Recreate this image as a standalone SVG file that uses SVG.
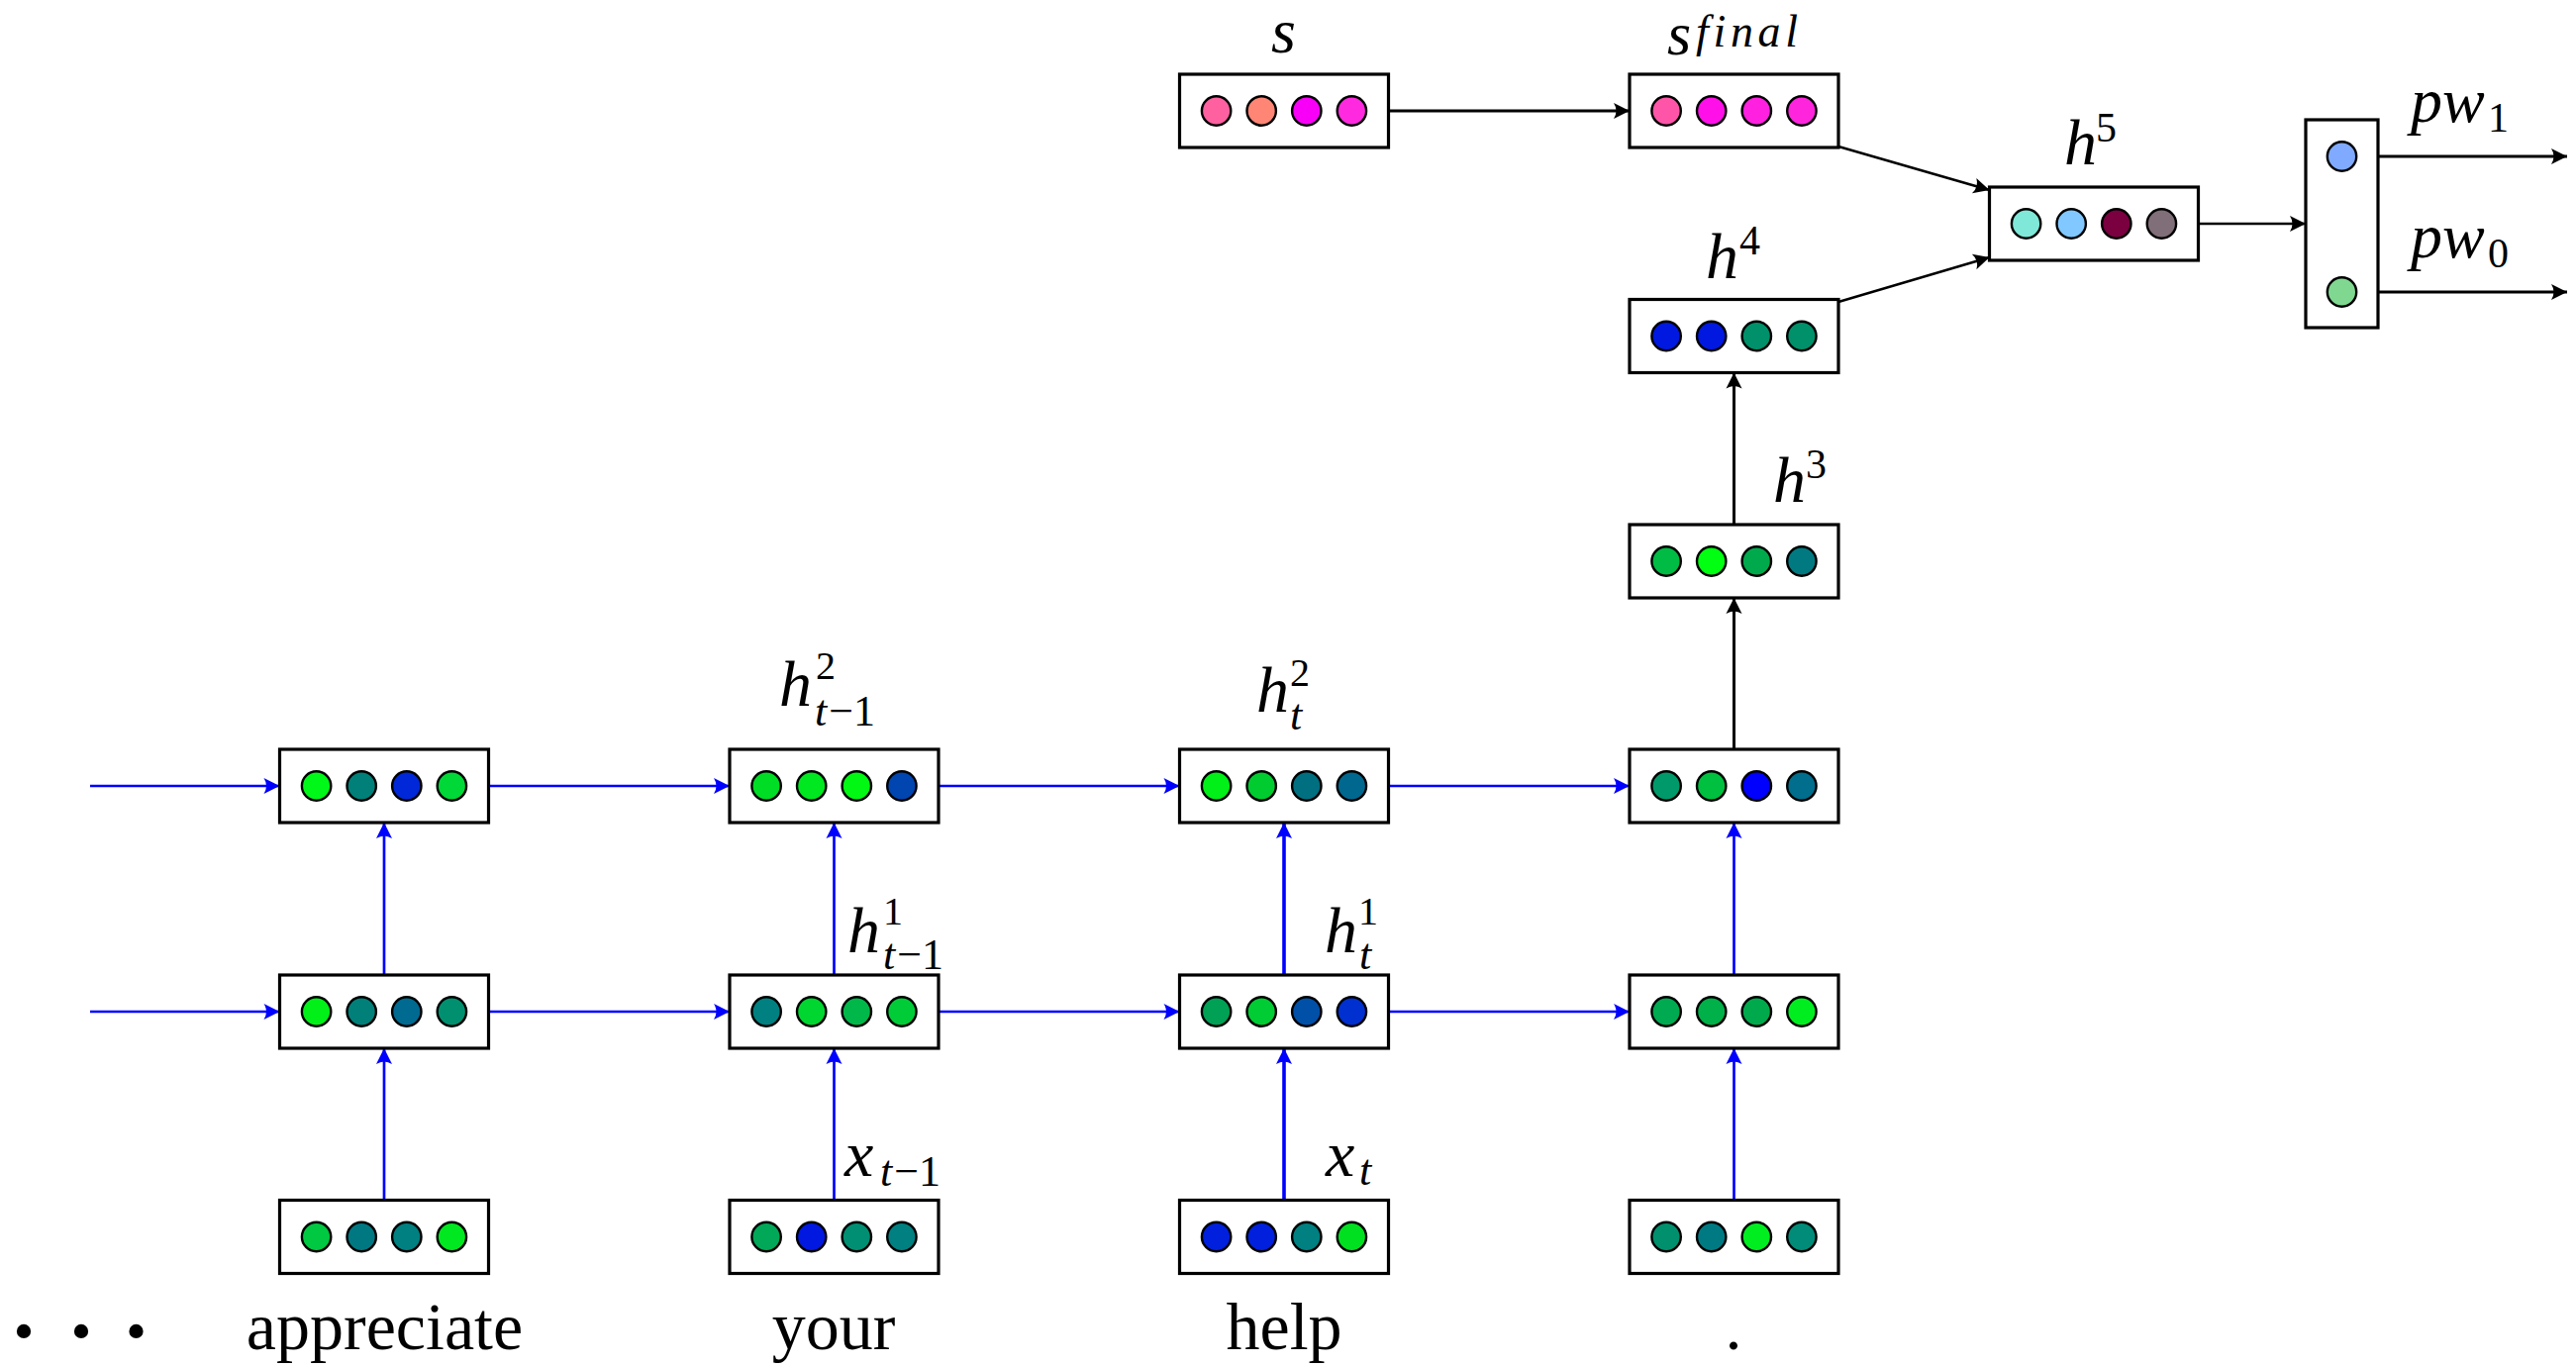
<svg xmlns="http://www.w3.org/2000/svg" width="2602" height="1380" viewBox="0 0 2602 1380">
<defs>
<style>
.box{fill:#fff;stroke:#000;stroke-width:3.2}
.dot{stroke:#000;stroke-width:2.4}
.b{stroke:#0000FF;stroke-width:2.7;fill:none}
.b3{stroke:#0000FF;stroke-width:3.6;fill:none}
.k{stroke:#000;stroke-width:3;fill:none}
.k2{stroke:#000;stroke-width:2.4;fill:none}
.m{font-style:italic}
.n{font-style:normal}
</style>
<marker id="ab" markerUnits="userSpaceOnUse" markerWidth="18" markerHeight="18" viewBox="0 0 18 18" refX="17" refY="9" orient="auto">
<path d="M17,9 L1,1 Q6,9 1,17 Z" fill="#0000FF"/>
</marker>
<marker id="ak" markerUnits="userSpaceOnUse" markerWidth="18" markerHeight="18" viewBox="0 0 18 18" refX="17" refY="9" orient="auto">
<path d="M17,9 L1,1 Q6,9 1,17 Z" fill="#000"/>
</marker>
</defs>
<rect width="2602" height="1380" fill="#fff"/>

<g id="connectors">
<line class="b" x1="91" y1="794" x2="282.5" y2="794" marker-end="url(#ab)"/>
<line class="b" x1="493.5" y1="794" x2="737" y2="794" marker-end="url(#ab)"/>
<line class="b" x1="948" y1="794" x2="1191.5" y2="794" marker-end="url(#ab)"/>
<line class="b" x1="1402.5" y1="794" x2="1646" y2="794" marker-end="url(#ab)"/>
<line class="b" x1="91" y1="1022" x2="282.5" y2="1022" marker-end="url(#ab)"/>
<line class="b" x1="493.5" y1="1022" x2="737" y2="1022" marker-end="url(#ab)"/>
<line class="b" x1="948" y1="1022" x2="1191.5" y2="1022" marker-end="url(#ab)"/>
<line class="b" x1="1402.5" y1="1022" x2="1646" y2="1022" marker-end="url(#ab)"/>
<line class="b" x1="388" y1="1212.5" x2="388" y2="1059" marker-end="url(#ab)"/>
<line class="b" x1="388" y1="985" x2="388" y2="831" marker-end="url(#ab)"/>
<line class="b" x1="842.5" y1="1212.5" x2="842.5" y2="1059" marker-end="url(#ab)"/>
<line class="b" x1="842.5" y1="985" x2="842.5" y2="831" marker-end="url(#ab)"/>
<line class="b3" x1="1297" y1="1212.5" x2="1297" y2="1059" marker-end="url(#ab)"/>
<line class="b3" x1="1297" y1="985" x2="1297" y2="831" marker-end="url(#ab)"/>
<line class="b" x1="1751.5" y1="1212.5" x2="1751.5" y2="1059" marker-end="url(#ab)"/>
<line class="b" x1="1751.5" y1="985" x2="1751.5" y2="831" marker-end="url(#ab)"/>
<line class="k" x1="1751.5" y1="757" x2="1751.5" y2="604" marker-end="url(#ak)"/>
<line class="k" x1="1751.5" y1="530" x2="1751.5" y2="376.5" marker-end="url(#ak)"/>
<line class="k" x1="1402.5" y1="112" x2="1646" y2="112" marker-end="url(#ak)"/>
<line class="k2" x1="1857" y1="148" x2="2009.5" y2="192" marker-end="url(#ak)"/>
<line class="k2" x1="1857" y1="305" x2="2009.5" y2="260" marker-end="url(#ak)"/>
<line class="k2" x1="2220.5" y1="226" x2="2329" y2="226" marker-end="url(#ak)"/>
<line class="k" x1="2381" y1="158" x2="2593" y2="158" marker-end="url(#ak)"/>
<line class="k" x1="2381" y1="295" x2="2593" y2="295" marker-end="url(#ak)"/>
</g>

<g id="n_c1_top">
<rect class="box" x="282.5" y="757" width="211" height="74"/>
<circle class="dot" cx="319.6" cy="794" r="14.7" fill="#00F818"/>
<circle class="dot" cx="365.2" cy="794" r="14.7" fill="#008078"/>
<circle class="dot" cx="410.8" cy="794" r="14.7" fill="#0028D8"/>
<circle class="dot" cx="456.4" cy="794" r="14.7" fill="#00D838"/>
</g>
<g id="n_c1_mid">
<rect class="box" x="282.5" y="985" width="211" height="74"/>
<circle class="dot" cx="319.6" cy="1022" r="14.7" fill="#00F018"/>
<circle class="dot" cx="365.2" cy="1022" r="14.7" fill="#008078"/>
<circle class="dot" cx="410.8" cy="1022" r="14.7" fill="#006A90"/>
<circle class="dot" cx="456.4" cy="1022" r="14.7" fill="#009070"/>
</g>
<g id="n_c1_bot">
<rect class="box" x="282.5" y="1212.5" width="211" height="74"/>
<circle class="dot" cx="319.6" cy="1249.5" r="14.7" fill="#00C840"/>
<circle class="dot" cx="365.2" cy="1249.5" r="14.7" fill="#007882"/>
<circle class="dot" cx="410.8" cy="1249.5" r="14.7" fill="#008080"/>
<circle class="dot" cx="456.4" cy="1249.5" r="14.7" fill="#00E820"/>
</g>

<g id="n_c2_top">
<rect class="box" x="737" y="757" width="211" height="74"/>
<circle class="dot" cx="774.1" cy="794" r="14.7" fill="#00DD25"/>
<circle class="dot" cx="819.7" cy="794" r="14.7" fill="#00E820"/>
<circle class="dot" cx="865.3" cy="794" r="14.7" fill="#00F812"/>
<circle class="dot" cx="910.9" cy="794" r="14.7" fill="#0045B0"/>
</g>
<g id="n_c2_mid">
<rect class="box" x="737" y="985" width="211" height="74"/>
<circle class="dot" cx="774.1" cy="1022" r="14.7" fill="#008080"/>
<circle class="dot" cx="819.7" cy="1022" r="14.7" fill="#00D630"/>
<circle class="dot" cx="865.3" cy="1022" r="14.7" fill="#00B84A"/>
<circle class="dot" cx="910.9" cy="1022" r="14.7" fill="#00CC38"/>
</g>
<g id="n_c2_bot">
<rect class="box" x="737" y="1212.5" width="211" height="74"/>
<circle class="dot" cx="774.1" cy="1249.5" r="14.7" fill="#00A858"/>
<circle class="dot" cx="819.7" cy="1249.5" r="14.7" fill="#0018E0"/>
<circle class="dot" cx="865.3" cy="1249.5" r="14.7" fill="#008F72"/>
<circle class="dot" cx="910.9" cy="1249.5" r="14.7" fill="#008080"/>
</g>

<g id="n_c3_top">
<rect class="box" x="1191.5" y="757" width="211" height="74"/>
<circle class="dot" cx="1228.6" cy="794" r="14.7" fill="#00F018"/>
<circle class="dot" cx="1274.2" cy="794" r="14.7" fill="#00CC30"/>
<circle class="dot" cx="1319.8" cy="794" r="14.7" fill="#007080"/>
<circle class="dot" cx="1365.4" cy="794" r="14.7" fill="#00688F"/>
</g>
<g id="n_c3_mid">
<rect class="box" x="1191.5" y="985" width="211" height="74"/>
<circle class="dot" cx="1228.6" cy="1022" r="14.7" fill="#00A055"/>
<circle class="dot" cx="1274.2" cy="1022" r="14.7" fill="#00CC33"/>
<circle class="dot" cx="1319.8" cy="1022" r="14.7" fill="#0050A8"/>
<circle class="dot" cx="1365.4" cy="1022" r="14.7" fill="#0030D0"/>
</g>
<g id="n_c3_bot">
<rect class="box" x="1191.5" y="1212.5" width="211" height="74"/>
<circle class="dot" cx="1228.6" cy="1249.5" r="14.7" fill="#0020DD"/>
<circle class="dot" cx="1274.2" cy="1249.5" r="14.7" fill="#0020DD"/>
<circle class="dot" cx="1319.8" cy="1249.5" r="14.7" fill="#008080"/>
<circle class="dot" cx="1365.4" cy="1249.5" r="14.7" fill="#00E020"/>
</g>

<g id="n_c4_top">
<rect class="box" x="1646" y="757" width="211" height="74"/>
<circle class="dot" cx="1683.1" cy="794" r="14.7" fill="#009A6A"/>
<circle class="dot" cx="1728.7" cy="794" r="14.7" fill="#00C040"/>
<circle class="dot" cx="1774.3" cy="794" r="14.7" fill="#0000FF"/>
<circle class="dot" cx="1819.9" cy="794" r="14.7" fill="#006E8C"/>
</g>
<g id="n_c4_mid">
<rect class="box" x="1646" y="985" width="211" height="74"/>
<circle class="dot" cx="1683.1" cy="1022" r="14.7" fill="#00AA50"/>
<circle class="dot" cx="1728.7" cy="1022" r="14.7" fill="#00B048"/>
<circle class="dot" cx="1774.3" cy="1022" r="14.7" fill="#00AA4C"/>
<circle class="dot" cx="1819.9" cy="1022" r="14.7" fill="#00EE20"/>
</g>
<g id="n_c4_bot">
<rect class="box" x="1646" y="1212.5" width="211" height="74"/>
<circle class="dot" cx="1683.1" cy="1249.5" r="14.7" fill="#00906E"/>
<circle class="dot" cx="1728.7" cy="1249.5" r="14.7" fill="#007A82"/>
<circle class="dot" cx="1774.3" cy="1249.5" r="14.7" fill="#00EE20"/>
<circle class="dot" cx="1819.9" cy="1249.5" r="14.7" fill="#008C78"/>
</g>

<g id="n_h3">
<rect class="box" x="1646" y="530" width="211" height="74"/>
<circle class="dot" cx="1683.1" cy="567" r="14.7" fill="#00BB44"/>
<circle class="dot" cx="1728.7" cy="567" r="14.7" fill="#00FF10"/>
<circle class="dot" cx="1774.3" cy="567" r="14.7" fill="#00AA4C"/>
<circle class="dot" cx="1819.9" cy="567" r="14.7" fill="#007A80"/>
</g>
<g id="n_h4">
<rect class="box" x="1646" y="302.5" width="211" height="74"/>
<circle class="dot" cx="1683.1" cy="339.5" r="14.7" fill="#0018E0"/>
<circle class="dot" cx="1728.7" cy="339.5" r="14.7" fill="#0018E0"/>
<circle class="dot" cx="1774.3" cy="339.5" r="14.7" fill="#00906A"/>
<circle class="dot" cx="1819.9" cy="339.5" r="14.7" fill="#00906A"/>
</g>
<g id="n_s">
<rect class="box" x="1191.5" y="75" width="211" height="74"/>
<circle class="dot" cx="1228.6" cy="112" r="14.7" fill="#FF60A0"/>
<circle class="dot" cx="1274.2" cy="112" r="14.7" fill="#FF8575"/>
<circle class="dot" cx="1319.8" cy="112" r="14.7" fill="#F800F8"/>
<circle class="dot" cx="1365.4" cy="112" r="14.7" fill="#FF2ADF"/>
</g>
<g id="n_sfinal">
<rect class="box" x="1646" y="75" width="211" height="74"/>
<circle class="dot" cx="1683.1" cy="112" r="14.7" fill="#FF55A8"/>
<circle class="dot" cx="1728.7" cy="112" r="14.7" fill="#FF10E8"/>
<circle class="dot" cx="1774.3" cy="112" r="14.7" fill="#FF20E0"/>
<circle class="dot" cx="1819.9" cy="112" r="14.7" fill="#FF25DD"/>
</g>
<g id="n_h5">
<rect class="box" x="2009.5" y="189" width="211" height="74"/>
<circle class="dot" cx="2046.6" cy="226" r="14.7" fill="#80E8D8"/>
<circle class="dot" cx="2092.2" cy="226" r="14.7" fill="#80C8FF"/>
<circle class="dot" cx="2137.8" cy="226" r="14.7" fill="#7A0040"/>
<circle class="dot" cx="2183.4" cy="226" r="14.7" fill="#806E78"/>
</g>
<g id="n_out">
<rect class="box" x="2329" y="121" width="73" height="210"/>
<circle class="dot" cx="2365.5" cy="158" r="14.7" fill="#80AAFF"/>
<circle class="dot" cx="2365.5" cy="295" r="14.7" fill="#80D890"/>
</g>

<g id="labels" font-family="Liberation Serif, Times New Roman, serif" fill="#000">
<text class="m" x="1284" y="53" font-size="64">s</text>
<text class="m"><tspan x="1684" y="55" font-size="62">s</tspan><tspan x="1713" y="47" font-size="46" textLength="103" lengthAdjust="spacing">final</tspan></text>
<text class="m"><tspan x="2085" y="166" font-size="66">h</tspan><tspan class="n" x="2117" y="143" font-size="42">5</tspan></text>
<text class="m"><tspan x="1723" y="281" font-size="66">h</tspan><tspan class="n" x="1757" y="257" font-size="42">4</tspan></text>
<text class="m"><tspan x="1791" y="507" font-size="66">h</tspan><tspan class="n" x="1824" y="483" font-size="42">3</tspan></text>
<text class="m"><tspan x="787" y="713" font-size="66">h</tspan><tspan class="n" x="824" y="686" font-size="40">2</tspan><tspan x="823" y="733" font-size="44">t</tspan><tspan class="n" font-size="44" dx="2">−1</tspan></text>
<text class="m"><tspan x="1269" y="719" font-size="66">h</tspan><tspan class="n" x="1303" y="693" font-size="40">2</tspan><tspan x="1303" y="737" font-size="44">t</tspan></text>
<text class="m"><tspan x="856" y="962" font-size="66">h</tspan><tspan class="n" x="892" y="934" font-size="40">1</tspan><tspan x="892" y="979" font-size="44">t</tspan><tspan class="n" font-size="44" dx="2">−1</tspan></text>
<text class="m"><tspan x="1338" y="962" font-size="66">h</tspan><tspan class="n" x="1372" y="934" font-size="40">1</tspan><tspan x="1373" y="979" font-size="44">t</tspan></text>
<text class="m"><tspan x="853" y="1188" font-size="66">x</tspan><tspan x="889" y="1198" font-size="44">t</tspan><tspan class="n" font-size="44" dx="2">−1</tspan></text>
<text class="m"><tspan x="1339" y="1188" font-size="66">x</tspan><tspan x="1373" y="1197" font-size="44">t</tspan></text>
<text class="m"><tspan x="2435" y="123" font-size="64">pw</tspan><tspan class="n" x="2513" y="133" font-size="42">1</tspan></text>
<text class="m"><tspan x="2435" y="260" font-size="64">pw</tspan><tspan class="n" x="2513" y="270" font-size="42">0</tspan></text>
<text x="24 82 137.5" y="1365" font-size="60" text-anchor="middle">•••</text>
<text x="388.5" y="1363" font-size="68" text-anchor="middle">appreciate</text>
<text x="842" y="1363" font-size="68" text-anchor="middle">your</text>
<text x="1297" y="1363" font-size="68" text-anchor="middle">help</text>
<text x="1751" y="1363" font-size="68" text-anchor="middle">.</text>
</g>
</svg>
